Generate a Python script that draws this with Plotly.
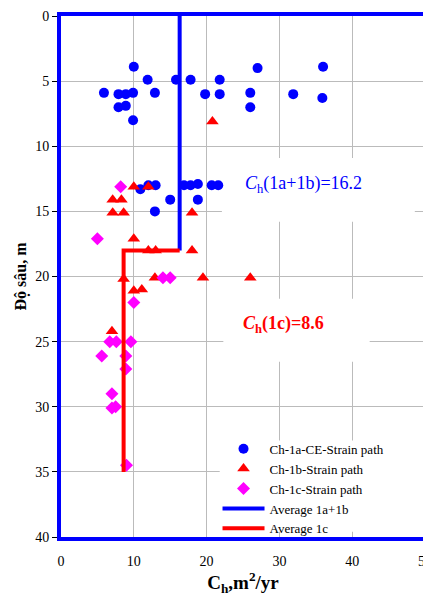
import plotly.graph_objects as go

# ---- data ----
ce_x = [10.0, 11.9, 15.8, 17.8, 21.8, 27.0, 36.0,
        5.9, 7.9, 8.9, 9.9, 12.9, 19.8, 21.8, 26.0, 31.9, 35.9,
        7.9, 8.9, 26.0, 9.9,
        10.9, 12.0, 13.0, 16.9, 17.8, 18.8, 20.7, 21.6,
        15.0, 18.8, 12.9]
ce_y = [3.9, 4.9, 4.9, 4.9, 4.9, 4.0, 3.9,
        5.9, 6.0, 6.0, 5.9, 5.9, 6.0, 6.0, 5.9, 6.0, 6.3,
        7.0, 6.9, 7.0, 8.0,
        13.3, 13.0, 13.0, 13.0, 13.0, 12.9, 13.0, 13.0,
        14.1, 14.1, 15.0]

b_x = [20.8, 10.0, 12.0, 7.1, 8.3, 7.1, 8.6, 18.0, 10.0, 12.0, 13.0, 18.0,
       8.6, 12.9, 19.5, 26.0, 10.0, 11.1, 7.0]
b_y = [8.1, 13.1, 13.1, 14.1, 14.1, 15.1, 15.1, 15.1, 17.1, 18.0, 18.0, 18.0,
       20.2, 20.1, 20.1, 20.1, 21.1, 21.0, 24.2]

c_x = [8.2, 5.0, 14.0, 15.0, 10.0, 6.7, 7.6, 9.6, 5.6, 8.9, 8.9, 7.0, 7.0, 7.5, 9.0]
c_y = [13.1, 17.1, 20.1, 20.1, 22.0, 25.0, 25.0, 25.0, 26.1, 26.1, 27.1, 29.0, 30.1, 30.0, 34.5]

avg_ab_x = [16.3, 16.3]
avg_ab_y = [0, 18]
avg_c_x = [16.3, 8.6, 8.6]
avg_c_y = [18, 18, 35]

x_ticks = [0, 10, 20, 30, 40, 50]
y_ticks = [0, 5, 10, 15, 20, 25, 30, 35, 40]

SERIF = "Liberation Serif"

fig = go.Figure()
fig.add_trace(go.Scatter(x=ce_x, y=ce_y, mode="markers", name="Ch-1a-CE-Strain path",
                         marker=dict(symbol="circle", size=10, color="#0000FF")))
fig.add_trace(go.Scatter(x=b_x, y=b_y, mode="markers", name="Ch-1b-Strain path",
                         marker=dict(symbol="triangle-up", size=11, color="#FF0000")))
fig.add_trace(go.Scatter(x=c_x, y=c_y, mode="markers", name="Ch-1c-Strain path",
                         marker=dict(symbol="diamond", size=10, color="#FF00FF")))
fig.add_trace(go.Scatter(x=avg_ab_x, y=avg_ab_y, mode="lines", name="Average 1a+1b",
                         line=dict(color="#0000FF", width=4)))
fig.add_trace(go.Scatter(x=avg_c_x, y=avg_c_y, mode="lines", name="Average 1c",
                         line=dict(color="#FF0000", width=4)))

# white boxes behind the text labels and legend (hide grid)
for x0, x1, y0, y1 in [(22.1, 48.6, 10.9, 15.8), (22.3, 42.4, 21.7, 26.55),
                       (21.8, 50, 32.6, 39.6)]:
    fig.add_shape(type="rect", xref="x", yref="y", x0=x0, x1=x1, y0=y0, y1=y1,
                  fillcolor="white", line=dict(width=0), layer="between")

fig.add_annotation(x=(242.7 + 365) / 2, y=184, xref="x", yref="y",
                   text="<i>C</i><sub>h</sub>(1a+1b)=16.2", showarrow=False,
                   font=dict(family=SERIF, size=18, color="#0000FF"))
fig.add_annotation(x=(241.7 + 325) / 2, y=324, xref="x", yref="y",
                   text="<b><i>C</i><sub>h</sub>(1c)=8.6</b>", showarrow=False,
                   font=dict(family=SERIF, size=18, color="#FF0000"))

# convert annotation pixel positions to data coordinates
for ann in fig.layout.annotations:
    ann.x = (ann.x - 61) / 7.28
    ann.y = (ann.y - 15.7) / 13.03

fig.update_layout(
    width=431, height=597,
    margin=dict(l=53, r=14, t=8, b=68),
    paper_bgcolor="white", plot_bgcolor="white",
    font=dict(family=SERIF, size=13, color="black"),
    showlegend=True,
    legend=dict(x=0.43, y=-0.013, xanchor="left", yanchor="bottom",
                bgcolor="rgba(0,0,0,0)", borderwidth=0, itemwidth=42,
                font=dict(family=SERIF, size=13, color="black"),
                tracegroupgap=0),
    xaxis=dict(range=[0, 50], tickvals=x_ticks, ticks="outside", ticklen=8,
               tickcolor="rgba(0,0,0,0)", showgrid=True,
               gridcolor="#BBBBBB", gridwidth=1, zeroline=False, automargin=False,
               showline=True, linecolor="#0000FF", linewidth=4, mirror=True,
               tickfont=dict(family=SERIF, size=14),
               title=dict(text="<b>C<sub>h</sub>,m<sup>2</sup>/yr</b>",
                          font=dict(family=SERIF, size=19), standoff=7)),
    xaxis2=dict(range=[0, 50], tickvals=x_ticks, overlaying="x", side="top",
                ticks="outside", ticklen=5, tickcolor="black", showticklabels=False,
                showgrid=False, zeroline=False, showline=False, automargin=False),
    yaxis=dict(range=[40, 0], tickvals=y_ticks, ticks="outside", ticklen=5,
               tickcolor="black", showgrid=True, gridcolor="#BBBBBB", gridwidth=1,
               zeroline=False, showline=True, linecolor="#0000FF", linewidth=4,
               mirror=True, tickfont=dict(family=SERIF, size=14), automargin=False,
               title=dict(text="<b>Độ sâu, m</b>", font=dict(family=SERIF, size=16),
                          standoff=6)),
)

fig.write_html("out.html")
